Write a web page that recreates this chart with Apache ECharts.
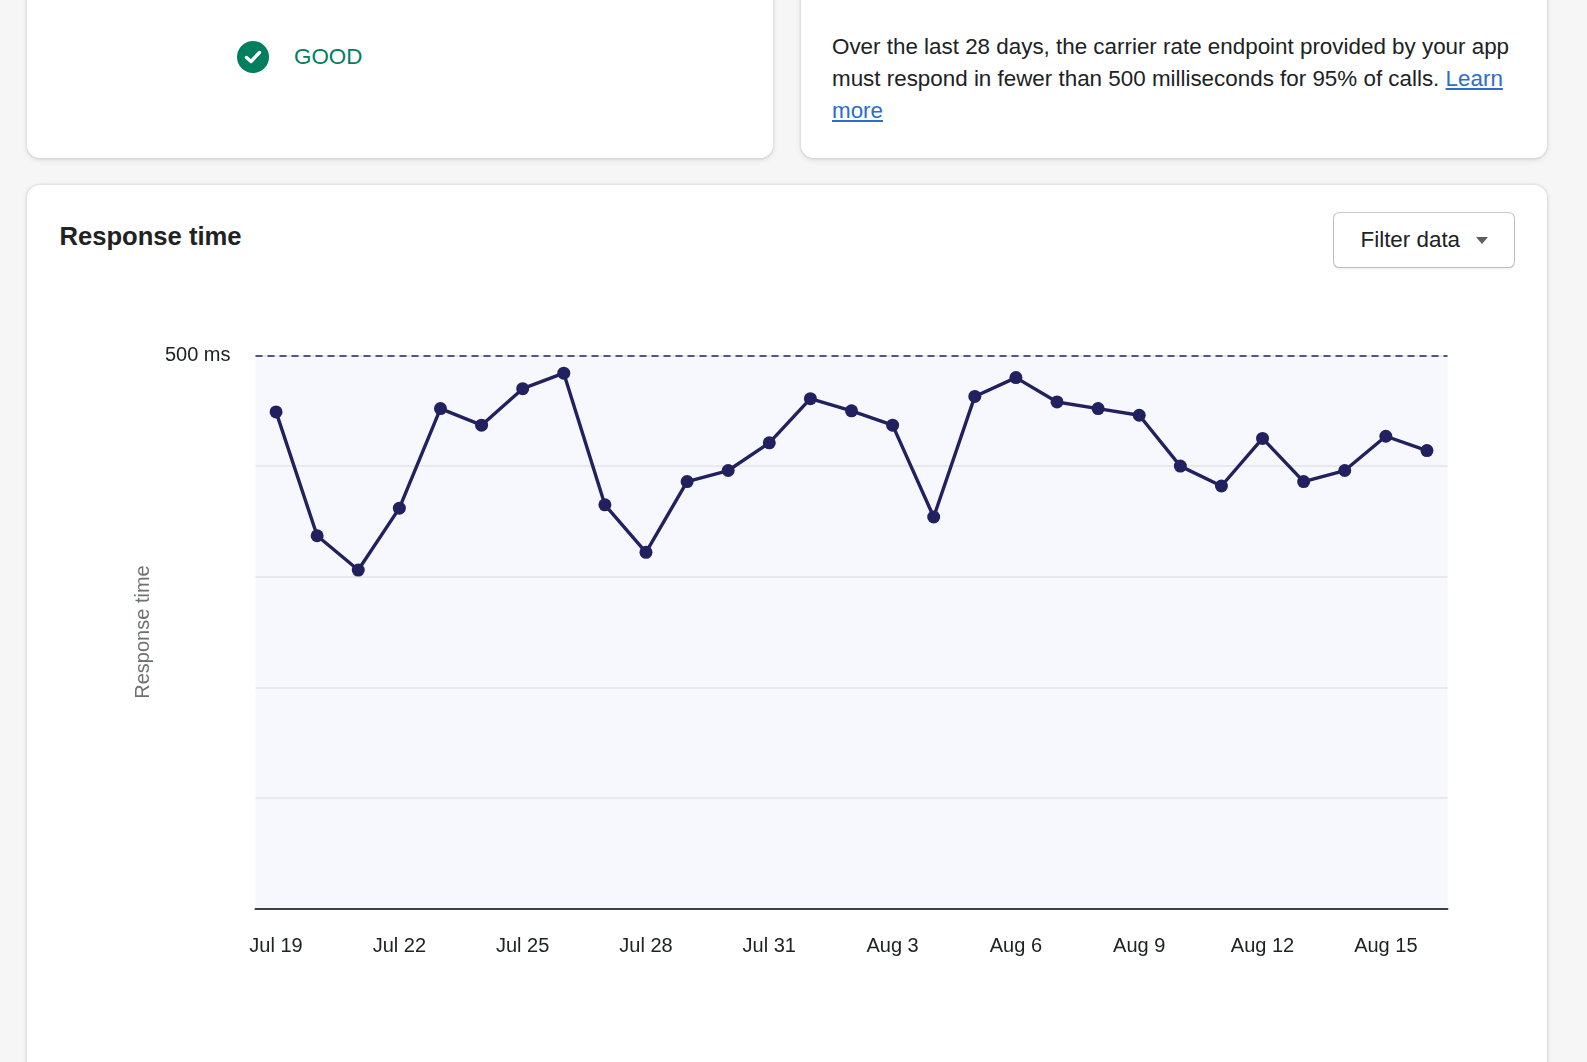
<!DOCTYPE html>
<html lang="en">
<head>
    <meta charset="UTF-8">
    <title>Response time</title>
    <script src="https://cdn.jsdelivr.net/npm/echarts@6/dist/echarts.min.js"></script>
    <style>
        html, body { margin: 0; padding: 0; }
        body {
            width: 1587px; height: 1062px; overflow: hidden; position: relative;
            background: #f6f6f7;
            font-family: "Liberation Sans", Arial, sans-serif;
            color: #202223;
        }
        .card {
            position: absolute; background: #fff; border-radius: 13px;
            box-shadow: 0 0 0 1.6px rgba(63,63,68,0.05), 0 1.6px 4.8px 0 rgba(63,63,68,0.15);
        }
        #status { left: 27px; top: -30px; width: 746px; height: 188px; }
        #info { left: 800.5px; top: -30px; width: 746px; height: 188px; }
        #panel { left: 27px; top: 185px; width: 1519.5px; height: 920px; }
        .good {
            position: absolute; left: 294px; top: 42px; line-height: 30px;
            font-size: 22.4px; color: #007f5f;
        }
        .check { position: absolute; left: 237px; top: 41px; }
        .desc {
            position: absolute; left: 832px; top: 30.5px; width: 684px;
            font-size: 22.4px; line-height: 32px;
        }
        .desc a { color: #2c6ecb; text-decoration: underline; }
        .title {
            position: absolute; left: 59.5px; top: 217px; line-height: 38px;
            font-size: 25.6px; font-weight: bold;
        }
        .btn {
            position: absolute; left: 1333px; top: 211.5px; width: 180px; height: 54.5px;
            border: 1.6px solid #babfc3; border-top-color: #c9cccf; border-radius: 6.4px;
            box-shadow: 0 1.6px 0 rgba(0,0,0,0.05); background: #fff;
            font-size: 22.4px; line-height: 54.5px; box-sizing: content-box;
        }
        .btn span { position: absolute; left: 26.5px; }
        .btn i {
            position: absolute; left: 142px; top: 24px; width: 0; height: 0;
            border-left: 6.4px solid transparent; border-right: 6.4px solid transparent;
            border-top: 7px solid #5c5f62;
        }
        #main { position: absolute; left: 0; top: 0; width: 1587px; height: 1062px; }
    </style>
</head>
<body>
    <div class="card" id="status"></div>
    <div class="card" id="info"></div>
    <div class="card" id="panel"></div>

    <svg class="check" width="32" height="32" viewBox="0 0 32 32">
        <circle cx="16" cy="16" r="16" fill="#007f5f"/>
        <path d="M9.5 16.5 L14 20.5 L22.5 11.5" fill="none" stroke="#fff" stroke-width="3.4" stroke-linecap="round" stroke-linejoin="round"/>
    </svg>
    <div class="good">GOOD</div>
    <div class="desc">Over the last 28 days, the carrier rate endpoint provided by your app must respond in fewer than 500 milliseconds for 95% of calls. <a href="#">Learn more</a></div>
    <div class="title">Response time</div>
    <div class="btn"><span>Filter data</span><i></i></div>

    <div id="main"></div>
    <script type="text/javascript">
        // dates, one point per day
        var days = ['Jul 19', 'Jul 20', 'Jul 21', 'Jul 22', 'Jul 23', 'Jul 24', 'Jul 25', 'Jul 26',
            'Jul 27', 'Jul 28', 'Jul 29', 'Jul 30', 'Jul 31', 'Aug 1', 'Aug 2', 'Aug 3', 'Aug 4',
            'Aug 5', 'Aug 6', 'Aug 7', 'Aug 8', 'Aug 9', 'Aug 10', 'Aug 11', 'Aug 12', 'Aug 13',
            'Aug 14', 'Aug 15', 'Aug 16'];
        // response time in ms
        var responseMs = [449, 337, 306, 362, 452, 437, 470, 484,
            365, 322, 386, 396, 421, 461, 450, 437, 354,
            463, 480, 458, 452, 446, 400, 382, 425, 386,
            396, 427, 414];
        var threshold = 500;
        var yTicks = [0, 100, 200, 300, 400, 500];

        var myChart = echarts.init(document.getElementById('main'));
        myChart.setOption({
            animation: false,
            textStyle: { fontFamily: '"Liberation Sans", Arial, sans-serif' },
            grid: {
                left: 255.5, right: 139.5, top: 355.5, bottom: 153.5,
                show: true, backgroundColor: '#f7f8fd', borderWidth: 0
            },
            xAxis: {
                type: 'category',
                data: days,
                boundaryGap: true,
                axisLine: { lineStyle: { color: '#3f3f46', width: 2 } },
                axisTick: { show: false },
                axisLabel: { interval: 2, margin: 28, fontSize: 20, color: '#202223' }
            },
            yAxis: {
                type: 'value',
                min: yTicks[0],
                max: yTicks[yTicks.length - 1],
                interval: 100,
                name: 'Response time',
                nameLocation: 'middle',
                nameGap: 102,
                nameTextStyle: { fontSize: 20, color: '#6d7175' },
                axisLine: { show: false },
                axisTick: { show: false },
                axisLabel: {
                    margin: 25, fontSize: 20, color: '#202223', padding: [8, 0, 0, 0],
                    formatter: function (v) { return v === threshold ? threshold + ' ms' : ''; }
                },
                splitLine: { lineStyle: { color: '#e4e5e7', width: 1.5 } }
            },
            series: [{
                name: 'Response time',
                type: 'line',
                data: responseMs,
                symbol: 'circle',
                symbolSize: 13,
                showSymbol: true,
                lineStyle: { color: '#22215f', width: 3.4 },
                itemStyle: { color: '#22215f' },
                markLine: {
                    silent: true,
                    symbol: 'none',
                    label: { show: false },
                    lineStyle: { color: '#22215f', type: [7, 5], width: 1.6 },
                    data: [{ yAxis: threshold }]
                }
            }]
        });
    </script>
</body>
</html>
